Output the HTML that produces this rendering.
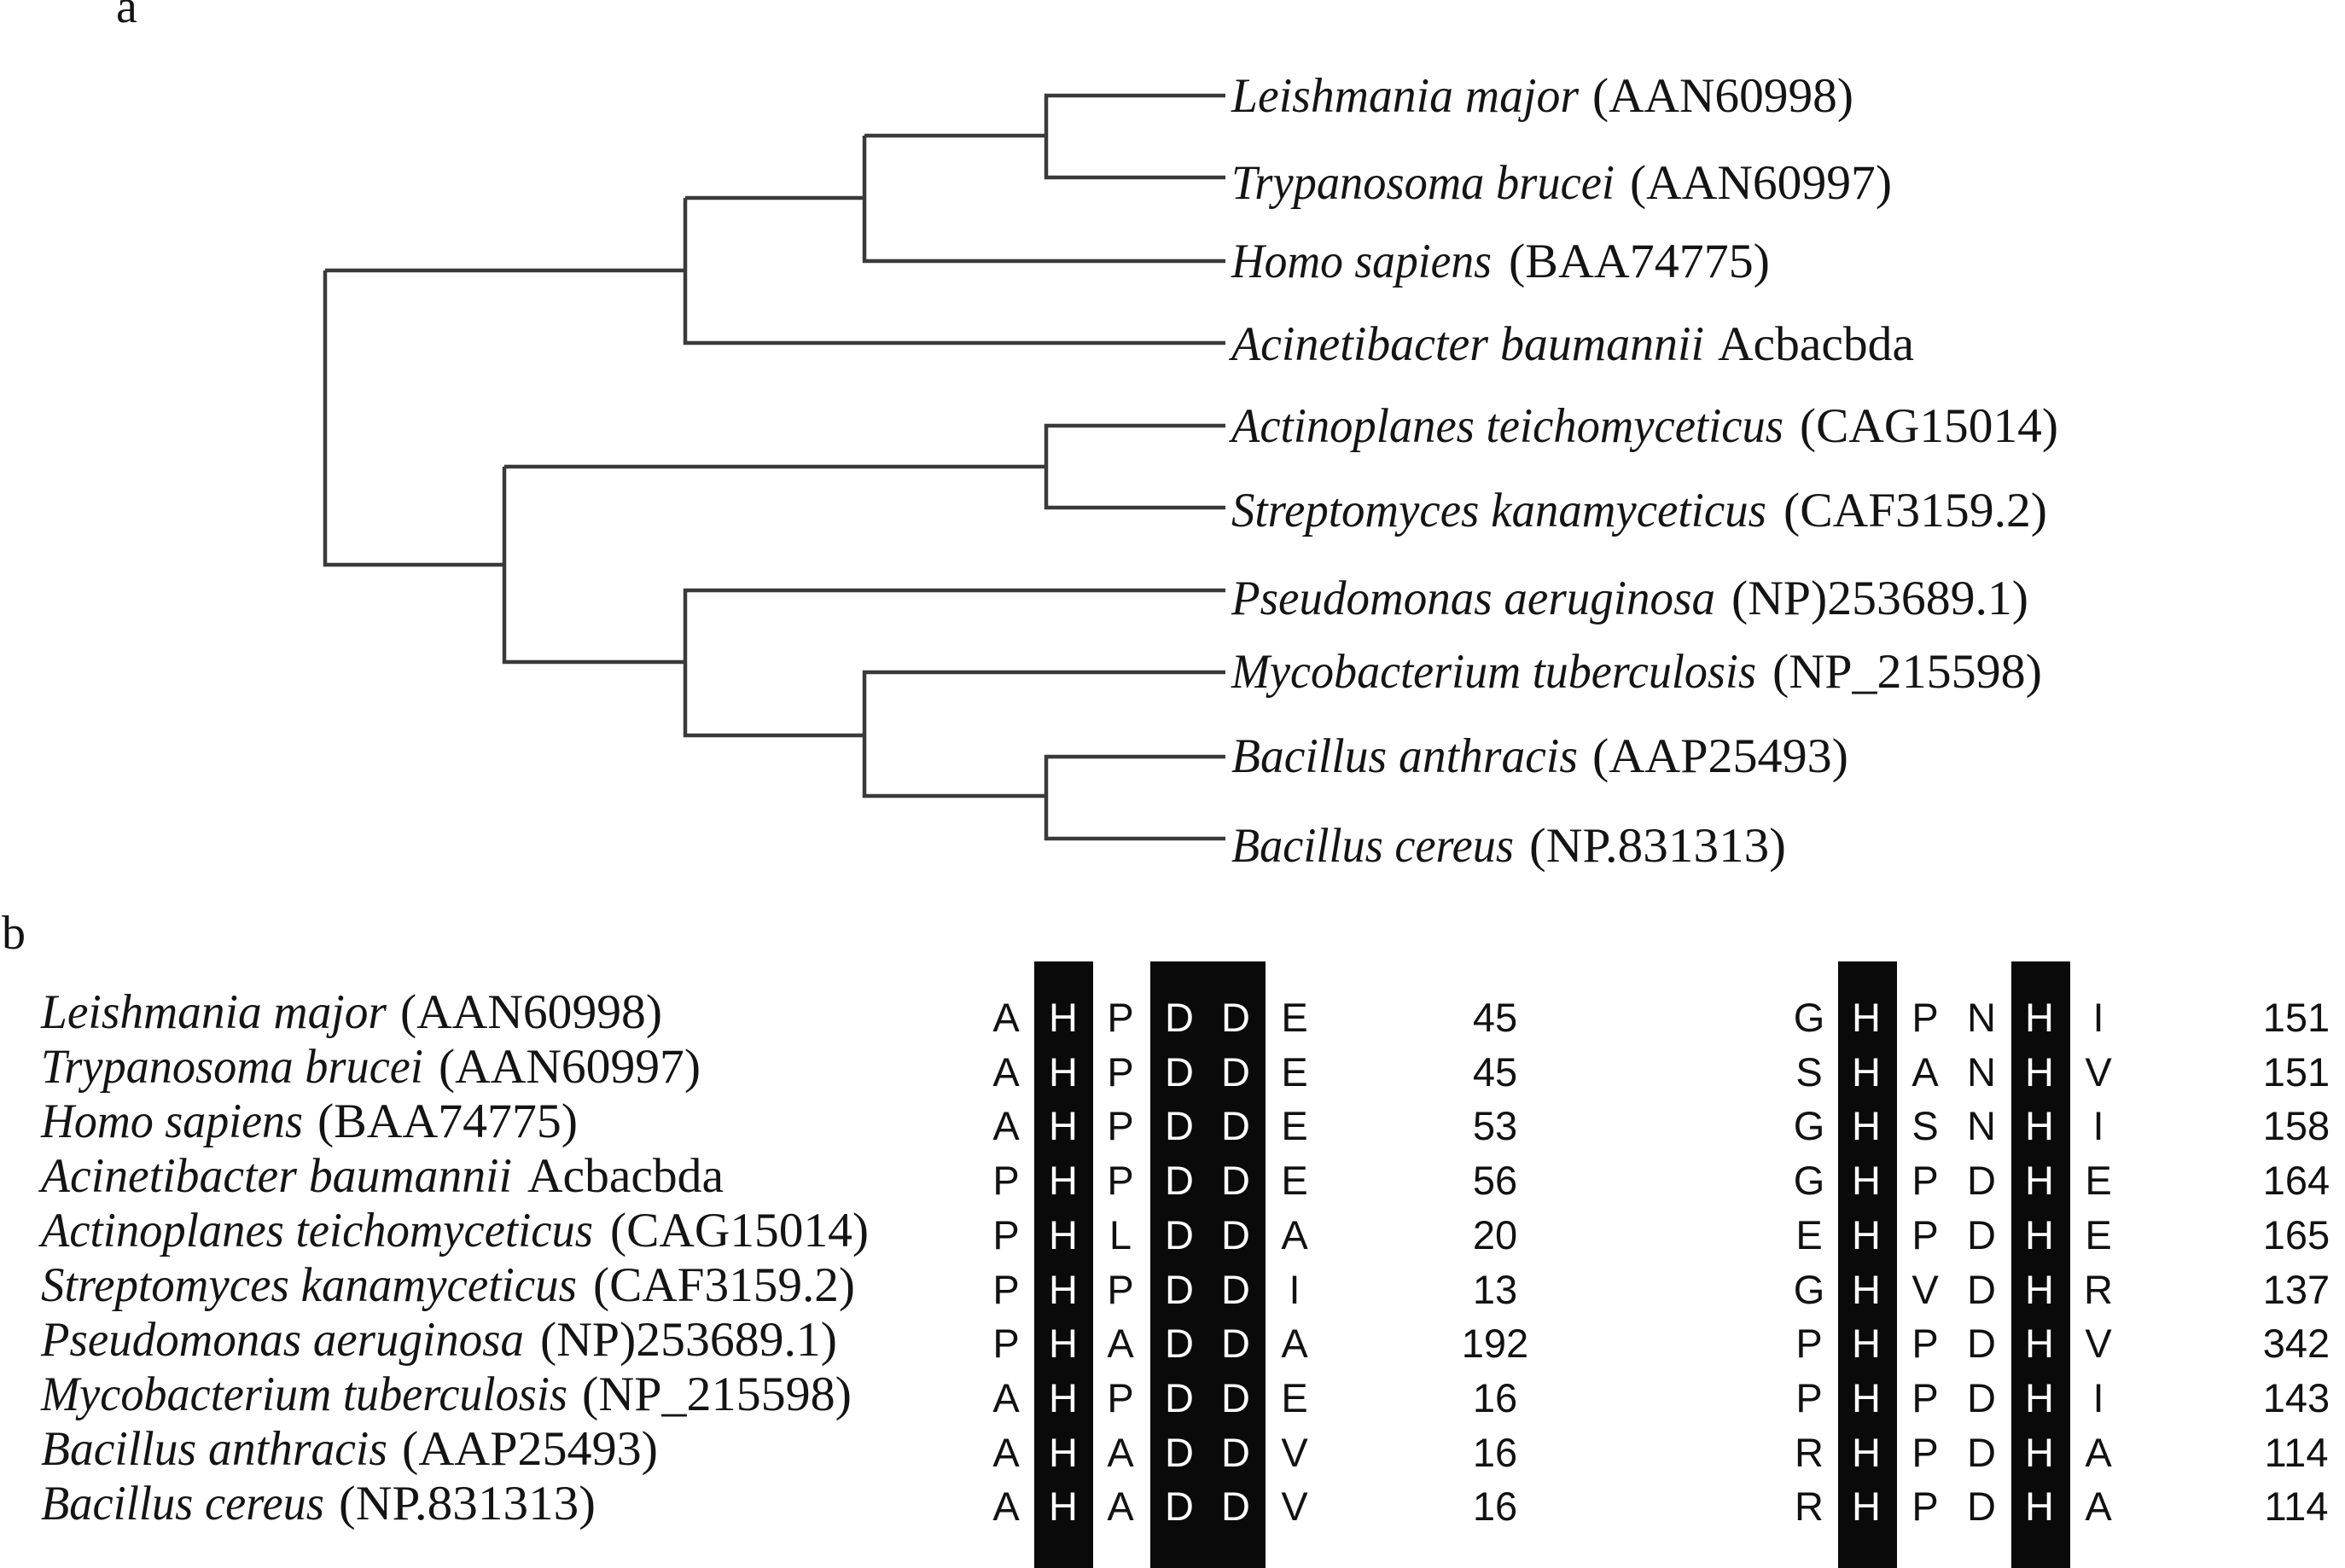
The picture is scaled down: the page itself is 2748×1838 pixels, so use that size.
<!DOCTYPE html>
<html>
<head>
<meta charset="utf-8">
<style>
html,body{margin:0;padding:0;background:#fff;}
svg{display:block;}
.s{font-family:"Liberation Serif",serif;font-size:57px;fill:#141414;}
.i{font-style:italic;}
.m{font-family:"Liberation Sans",sans-serif;font-size:47px;fill:#111;text-anchor:middle;}
.w{fill:#fff;}
</style>
</head>
<body>
<svg width="2748" height="1838" viewBox="0 0 2748 1838" xmlns="http://www.w3.org/2000/svg">
<rect x="0" y="0" width="2748" height="1838" fill="#fff"/>

<!-- panel labels -->
<text x="136" y="26" font-family="Liberation Serif, serif" font-size="56" fill="#141414">a</text>
<text x="2" y="1112" font-family="Liberation Serif, serif" font-size="56" fill="#141414">b</text>

<!-- tree -->
<g fill="none" stroke="#3a3a3a" stroke-width="4.5" stroke-linejoin="miter">
<path d="M1436 112 H1226 V208 H1436"/>
<path d="M1226 159 H1013"/>
<path d="M1013 159 V306 H1436"/>
<path d="M1013 232 H803"/>
<path d="M803 232 V402 H1436"/>
<path d="M803 317 H381"/>
<path d="M381 317 V662 H591"/>
<path d="M591 547 V776 H803"/>
<path d="M591 547 H1226"/>
<path d="M1436 499 H1226 V595 H1436"/>
<path d="M1436 692 H803 V862 H1013"/>
<path d="M1436 788 H1013 V933 H1226"/>
<path d="M1436 887 H1226 V983 H1436"/>
</g>

<!-- tree labels -->
<g class="s">
<text class="i" x="1443" y="131" textLength="407" lengthAdjust="spacingAndGlyphs">Leishmania major</text>
<text x="1866" y="131" textLength="306" lengthAdjust="spacingAndGlyphs">(AAN60998)</text>

<text class="i" x="1443" y="233" textLength="449" lengthAdjust="spacingAndGlyphs">Trypanosoma brucei</text>
<text x="1910" y="233" textLength="307" lengthAdjust="spacingAndGlyphs">(AAN60997)</text>

<text class="i" x="1443" y="325" textLength="305" lengthAdjust="spacingAndGlyphs">Homo sapiens</text>
<text x="1768" y="325" textLength="306" lengthAdjust="spacingAndGlyphs">(BAA74775)</text>

<text class="i" x="1443" y="422" textLength="554" lengthAdjust="spacingAndGlyphs">Acinetibacter baumannii</text>
<text x="2013" y="422" textLength="230" lengthAdjust="spacingAndGlyphs">Acbacbda</text>

<text class="i" x="1443" y="518" textLength="647" lengthAdjust="spacingAndGlyphs">Actinoplanes teichomyceticus</text>
<text x="2109" y="518" textLength="303" lengthAdjust="spacingAndGlyphs">(CAG15014)</text>

<text class="i" x="1443" y="617" textLength="627" lengthAdjust="spacingAndGlyphs">Streptomyces kanamyceticus</text>
<text x="2090" y="617" textLength="309" lengthAdjust="spacingAndGlyphs">(CAF3159.2)</text>

<text class="i" x="1443" y="720" textLength="567" lengthAdjust="spacingAndGlyphs">Pseudomonas aeruginosa</text>
<text x="2029" y="720" textLength="348" lengthAdjust="spacingAndGlyphs">(NP)253689.1)</text>

<text class="i" x="1443" y="806" textLength="615" lengthAdjust="spacingAndGlyphs">Mycobacterium tuberculosis</text>
<text x="2077" y="806" textLength="316" lengthAdjust="spacingAndGlyphs">(NP_215598)</text>

<text class="i" x="1443" y="905" textLength="406" lengthAdjust="spacingAndGlyphs">Bacillus anthracis</text>
<text x="1866" y="905" textLength="300" lengthAdjust="spacingAndGlyphs">(AAP25493)</text>

<text class="i" x="1443" y="1010" textLength="331" lengthAdjust="spacingAndGlyphs">Bacillus cereus</text>
<text x="1792" y="1010" textLength="301" lengthAdjust="spacingAndGlyphs">(NP.831313)</text>
</g>

<!-- part b names -->
<g class="s">
<text class="i" x="48" y="1205" textLength="405" lengthAdjust="spacingAndGlyphs">Leishmania major</text>
<text x="469" y="1205" textLength="307" lengthAdjust="spacingAndGlyphs">(AAN60998)</text>

<text class="i" x="48" y="1269" textLength="448" lengthAdjust="spacingAndGlyphs">Trypanosoma brucei</text>
<text x="514" y="1269" textLength="307" lengthAdjust="spacingAndGlyphs">(AAN60997)</text>

<text class="i" x="48" y="1333" textLength="307" lengthAdjust="spacingAndGlyphs">Homo sapiens</text>
<text x="372" y="1333" textLength="305" lengthAdjust="spacingAndGlyphs">(BAA74775)</text>

<text class="i" x="48" y="1397" textLength="552" lengthAdjust="spacingAndGlyphs">Acinetibacter baumannii</text>
<text x="618" y="1397" textLength="230" lengthAdjust="spacingAndGlyphs">Acbacbda</text>

<text class="i" x="48" y="1461" textLength="647" lengthAdjust="spacingAndGlyphs">Actinoplanes teichomyceticus</text>
<text x="715" y="1461" textLength="303" lengthAdjust="spacingAndGlyphs">(CAG15014)</text>

<text class="i" x="48" y="1525" textLength="628" lengthAdjust="spacingAndGlyphs">Streptomyces kanamyceticus</text>
<text x="695" y="1525" textLength="307" lengthAdjust="spacingAndGlyphs">(CAF3159.2)</text>

<text class="i" x="48" y="1589" textLength="566" lengthAdjust="spacingAndGlyphs">Pseudomonas aeruginosa</text>
<text x="633" y="1589" textLength="348" lengthAdjust="spacingAndGlyphs">(NP)253689.1)</text>

<text class="i" x="48" y="1653" textLength="617" lengthAdjust="spacingAndGlyphs">Mycobacterium tuberculosis</text>
<text x="682" y="1653" textLength="316" lengthAdjust="spacingAndGlyphs">(NP_215598)</text>

<text class="i" x="48" y="1717" textLength="406" lengthAdjust="spacingAndGlyphs">Bacillus anthracis</text>
<text x="471" y="1717" textLength="300" lengthAdjust="spacingAndGlyphs">(AAP25493)</text>

<text class="i" x="48" y="1781" textLength="332" lengthAdjust="spacingAndGlyphs">Bacillus cereus</text>
<text x="397" y="1781" textLength="301" lengthAdjust="spacingAndGlyphs">(NP.831313)</text>
</g>

<!-- black boxes -->
<g fill="#0a0a0a">
<rect x="1212" y="1127" width="69" height="711"/>
<rect x="1348" y="1127" width="135" height="711"/>
<rect x="2154" y="1127" width="69" height="711"/>
<rect x="2357" y="1127" width="69" height="711"/>
</g>

<!-- alignment block 1 -->
<g class="m">
<!-- row 1 -->
<text x="1179" y="1209">A</text><text class="w" x="1246" y="1209">H</text><text x="1313" y="1209">P</text><text class="w" x="1382" y="1209">D</text><text class="w" x="1448" y="1209">D</text><text x="1517" y="1209">E</text><text x="1752" y="1209">45</text>
<text x="1179" y="1273">A</text><text class="w" x="1246" y="1273">H</text><text x="1313" y="1273">P</text><text class="w" x="1382" y="1273">D</text><text class="w" x="1448" y="1273">D</text><text x="1517" y="1273">E</text><text x="1752" y="1273">45</text>
<text x="1179" y="1336">A</text><text class="w" x="1246" y="1336">H</text><text x="1313" y="1336">P</text><text class="w" x="1382" y="1336">D</text><text class="w" x="1448" y="1336">D</text><text x="1517" y="1336">E</text><text x="1752" y="1336">53</text>
<text x="1179" y="1400">P</text><text class="w" x="1246" y="1400">H</text><text x="1313" y="1400">P</text><text class="w" x="1382" y="1400">D</text><text class="w" x="1448" y="1400">D</text><text x="1517" y="1400">E</text><text x="1752" y="1400">56</text>
<text x="1179" y="1464">P</text><text class="w" x="1246" y="1464">H</text><text x="1313" y="1464">L</text><text class="w" x="1382" y="1464">D</text><text class="w" x="1448" y="1464">D</text><text x="1517" y="1464">A</text><text x="1752" y="1464">20</text>
<text x="1179" y="1528">P</text><text class="w" x="1246" y="1528">H</text><text x="1313" y="1528">P</text><text class="w" x="1382" y="1528">D</text><text class="w" x="1448" y="1528">D</text><text x="1517" y="1528">I</text><text x="1752" y="1528">13</text>
<text x="1179" y="1591">P</text><text class="w" x="1246" y="1591">H</text><text x="1313" y="1591">A</text><text class="w" x="1382" y="1591">D</text><text class="w" x="1448" y="1591">D</text><text x="1517" y="1591">A</text><text x="1752" y="1591">192</text>
<text x="1179" y="1655">A</text><text class="w" x="1246" y="1655">H</text><text x="1313" y="1655">P</text><text class="w" x="1382" y="1655">D</text><text class="w" x="1448" y="1655">D</text><text x="1517" y="1655">E</text><text x="1752" y="1655">16</text>
<text x="1179" y="1719">A</text><text class="w" x="1246" y="1719">H</text><text x="1313" y="1719">A</text><text class="w" x="1382" y="1719">D</text><text class="w" x="1448" y="1719">D</text><text x="1517" y="1719">V</text><text x="1752" y="1719">16</text>
<text x="1179" y="1782">A</text><text class="w" x="1246" y="1782">H</text><text x="1313" y="1782">A</text><text class="w" x="1382" y="1782">D</text><text class="w" x="1448" y="1782">D</text><text x="1517" y="1782">V</text><text x="1752" y="1782">16</text>
</g>

<!-- alignment block 2 -->
<g class="m">
<text x="2120" y="1209">G</text><text class="w" x="2187" y="1209">H</text><text x="2256" y="1209">P</text><text x="2322" y="1209">N</text><text class="w" x="2390" y="1209">H</text><text x="2459" y="1209">I</text><text x="2691" y="1209">151</text>
<text x="2120" y="1273">S</text><text class="w" x="2187" y="1273">H</text><text x="2256" y="1273">A</text><text x="2322" y="1273">N</text><text class="w" x="2390" y="1273">H</text><text x="2459" y="1273">V</text><text x="2691" y="1273">151</text>
<text x="2120" y="1336">G</text><text class="w" x="2187" y="1336">H</text><text x="2256" y="1336">S</text><text x="2322" y="1336">N</text><text class="w" x="2390" y="1336">H</text><text x="2459" y="1336">I</text><text x="2691" y="1336">158</text>
<text x="2120" y="1400">G</text><text class="w" x="2187" y="1400">H</text><text x="2256" y="1400">P</text><text x="2322" y="1400">D</text><text class="w" x="2390" y="1400">H</text><text x="2459" y="1400">E</text><text x="2691" y="1400">164</text>
<text x="2120" y="1464">E</text><text class="w" x="2187" y="1464">H</text><text x="2256" y="1464">P</text><text x="2322" y="1464">D</text><text class="w" x="2390" y="1464">H</text><text x="2459" y="1464">E</text><text x="2691" y="1464">165</text>
<text x="2120" y="1528">G</text><text class="w" x="2187" y="1528">H</text><text x="2256" y="1528">V</text><text x="2322" y="1528">D</text><text class="w" x="2390" y="1528">H</text><text x="2459" y="1528">R</text><text x="2691" y="1528">137</text>
<text x="2120" y="1591">P</text><text class="w" x="2187" y="1591">H</text><text x="2256" y="1591">P</text><text x="2322" y="1591">D</text><text class="w" x="2390" y="1591">H</text><text x="2459" y="1591">V</text><text x="2691" y="1591">342</text>
<text x="2120" y="1655">P</text><text class="w" x="2187" y="1655">H</text><text x="2256" y="1655">P</text><text x="2322" y="1655">D</text><text class="w" x="2390" y="1655">H</text><text x="2459" y="1655">I</text><text x="2691" y="1655">143</text>
<text x="2120" y="1719">R</text><text class="w" x="2187" y="1719">H</text><text x="2256" y="1719">P</text><text x="2322" y="1719">D</text><text class="w" x="2390" y="1719">H</text><text x="2459" y="1719">A</text><text x="2691" y="1719">114</text>
<text x="2120" y="1782">R</text><text class="w" x="2187" y="1782">H</text><text x="2256" y="1782">P</text><text x="2322" y="1782">D</text><text class="w" x="2390" y="1782">H</text><text x="2459" y="1782">A</text><text x="2691" y="1782">114</text>
</g>
</svg>
</body>
</html>
